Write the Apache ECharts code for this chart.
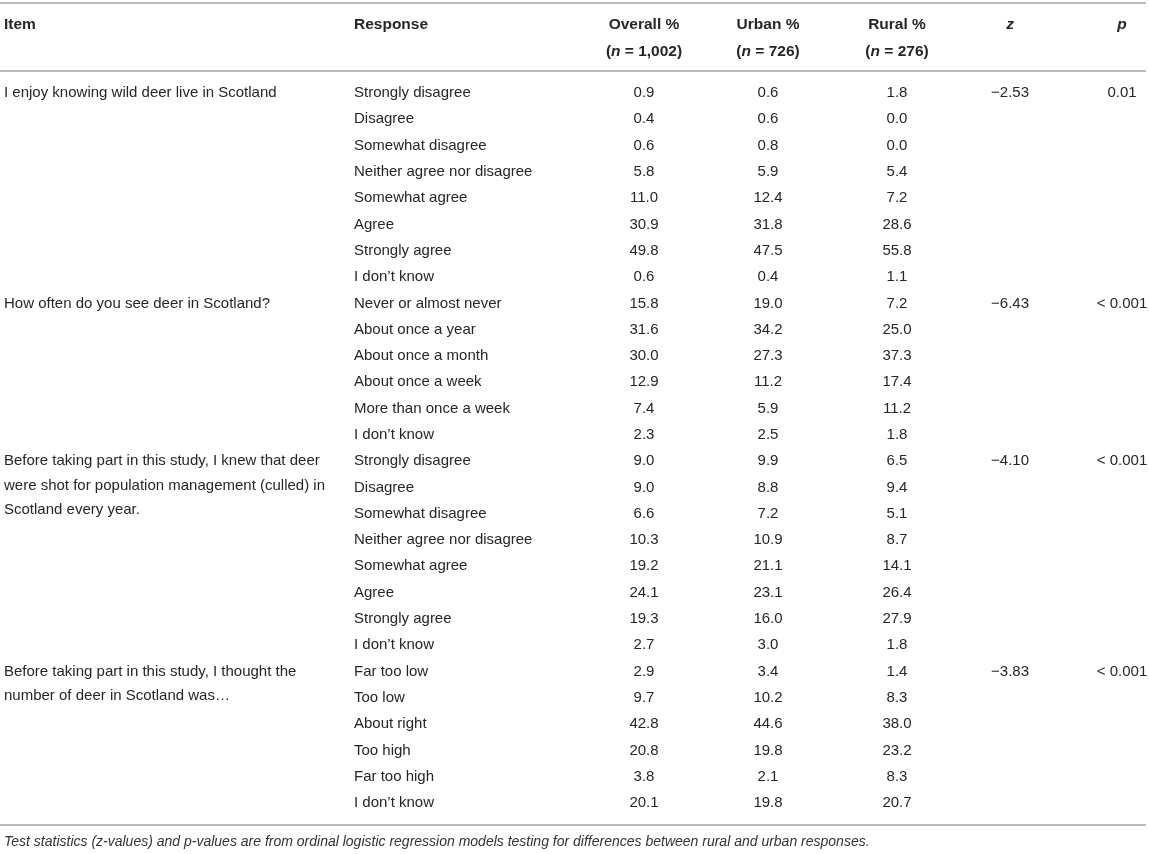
<!DOCTYPE html>
<html lang="en">
<head>
    <meta charset="UTF-8">
    <script src="https://cdn.jsdelivr.net/npm/echarts@6/dist/echarts.min.js"></script>
    <title>Deer attitudes table</title>
    <style>
        html, body { margin: 0; padding: 0; background: #fff; }
        #main { width: 1149px; height: 854px; }
    </style>
</head>
<body>
<div id="main"></div>

<script>
    // --- table content ---
    var items = [
        'I enjoy knowing wild deer live in Scotland',
        'How often do you see deer in Scotland?',
        'Before taking part in this study, I knew that deer\nwere shot for population management (culled) in\nScotland every year.',
        'Before taking part in this study, I thought the\nnumber of deer in Scotland was\u2026'
    ];
    var zValues = ['\u22122.53', '\u22126.43', '\u22124.10', '\u22123.83'];
    var pValues = ['0.01', '< 0.001', '< 0.001', '< 0.001'];

    var responses = [
        ['Strongly disagree', 'Disagree', 'Somewhat disagree', 'Neither agree nor disagree',
         'Somewhat agree', 'Agree', 'Strongly agree', 'I don\u2019t know'],
        ['Never or almost never', 'About once a year', 'About once a month', 'About once a week',
         'More than once a week', 'I don\u2019t know'],
        ['Strongly disagree', 'Disagree', 'Somewhat disagree', 'Neither agree nor disagree',
         'Somewhat agree', 'Agree', 'Strongly agree', 'I don\u2019t know'],
        ['Far too low', 'Too low', 'About right', 'Too high', 'Far too high', 'I don\u2019t know']
    ];

    var overall = [0.9, 0.4, 0.6, 5.8, 11.0, 30.9, 49.8, 0.6,
                   15.8, 31.6, 30.0, 12.9, 7.4, 2.3,
                   9.0, 9.0, 6.6, 10.3, 19.2, 24.1, 19.3, 2.7,
                   2.9, 9.7, 42.8, 20.8, 3.8, 20.1];
    var urban = [0.6, 0.6, 0.8, 5.9, 12.4, 31.8, 47.5, 0.4,
                 19.0, 34.2, 27.3, 11.2, 5.9, 2.5,
                 9.9, 8.8, 7.2, 10.9, 21.1, 23.1, 16.0, 3.0,
                 3.4, 10.2, 44.6, 19.8, 2.1, 19.8];
    var rural = [1.8, 0.0, 0.0, 5.4, 7.2, 28.6, 55.8, 1.1,
                 7.2, 25.0, 37.3, 17.4, 11.2, 1.8,
                 6.5, 9.4, 5.1, 8.7, 14.1, 26.4, 27.9, 1.8,
                 1.4, 8.3, 38.0, 23.2, 8.3, 20.7];

    var footnote = 'Test statistics (z-values) and p-values are from ordinal logistic regression models testing for differences between rural and urban responses.';

    // --- layout ---
    var FONT = 'Liberation Sans';
    var TXT = '#262626';
    var RULE = '#a3a3a3';
    var colX = { item: 4, response: 354, overall: 644, urban: 768, rural: 897, z: 1010, p: 1122 };
    var LINE_H = 24.5;

    // one data row per response, remembering which item it belongs to
    var rows = [];
    responses.forEach(function (group, g) {
        group.forEach(function (r, k) {
            rows.push({ group: g, first: k === 0, response: r });
        });
    });

    var chartDom = document.getElementById('main');
    var myChart = echarts.init(chartDom, null, { renderer: 'canvas' });

    function cellText(x, y, text, align, extra) {
        var style = {
            x: x, y: y, text: text,
            fill: TXT, fontSize: 15, fontFamily: FONT,
            align: align, verticalAlign: 'middle'
        };
        if (extra) Object.assign(style, extra);
        return { type: 'text', style: style, silent: true };
    }

    function renderRow(params, api) {
        var i = params.dataIndex;
        var row = rows[i];
        var y = api.coord([0, i])[1];
        var px = function (key) { return api.coord([colX[key], i])[0]; };
        var kids = [
            cellText(px('response'), y, row.response, 'left'),
            cellText(px('overall'), y, overall[i].toFixed(1), 'center'),
            cellText(px('urban'), y, urban[i].toFixed(1), 'center'),
            cellText(px('rural'), y, rural[i].toFixed(1), 'center')
        ];
        if (row.first) {
            kids.push(cellText(px('item'), y - LINE_H / 2, items[row.group], 'left',
                { verticalAlign: 'top', lineHeight: LINE_H }));
            kids.push(cellText(px('z'), y, zValues[row.group], 'center'));
            kids.push(cellText(px('p'), y, pValues[row.group], 'center'));
        }
        return { type: 'group', children: kids };
    }

    function headText(x, y, text, align) {
        return {
            type: 'text', x: x, y: y, silent: true,
            style: {
                text: text, align: align, verticalAlign: 'middle',
                fill: TXT, fontSize: 15.5, fontFamily: FONT, fontWeight: 'bold',
                rich: {
                    b: { fontWeight: 'bold', fontSize: 15.5, fontFamily: FONT, fill: TXT },
                    i: { fontWeight: 'bold', fontStyle: 'italic', fontSize: 15.5, fontFamily: FONT, fill: TXT }
                }
            }
        };
    }

    function rule(y) {
        return {
            type: 'line', silent: true,
            shape: { x1: 0, y1: y, x2: 1146, y2: y },
            style: { stroke: RULE, lineWidth: 1.6 }
        };
    }

    var option = {
        animation: false,
        backgroundColor: '#fff',
        textStyle: { fontFamily: FONT },
        grid: { left: 0, right: 0, top: 93, bottom: 51 },
        xAxis: { type: 'value', min: 0, max: 1149, show: false },
        yAxis: { type: 'value', min: 0, max: rows.length - 1, inverse: true, show: false },
        graphic: [
            rule(3),
            rule(71),
            rule(825),
            headText(colX.item, 25, 'Item', 'left'),
            headText(colX.response, 25, 'Response', 'left'),
            headText(colX.overall, 25, 'Overall %', 'center'),
            headText(colX.overall, 52, '{b|(}{i|n}{b| = 1,002)}', 'center'),
            headText(colX.urban, 25, 'Urban %', 'center'),
            headText(colX.urban, 52, '{b|(}{i|n}{b| = 726)}', 'center'),
            headText(colX.rural, 25, 'Rural %', 'center'),
            headText(colX.rural, 52, '{b|(}{i|n}{b| = 276)}', 'center'),
            headText(colX.z, 25, '{i|z}', 'center'),
            headText(colX.p, 25, '{i|p}', 'center'),
            {
                type: 'text', x: 4, y: 842, silent: true,
                style: {
                    text: footnote, align: 'left', verticalAlign: 'middle',
                    fill: '#333', fontSize: 14, fontStyle: 'italic', fontFamily: FONT
                }
            }
        ],
        series: [
            {
                type: 'custom',
                name: 'table',
                clip: false,
                renderItem: renderRow,
                data: rows.map(function (r, i) { return [0, i]; })
            }
        ]
    };
    myChart.setOption(option);
</script>
</body>
</html>
